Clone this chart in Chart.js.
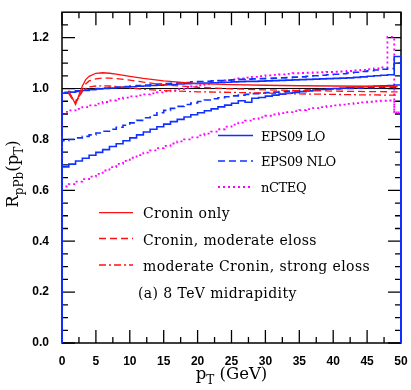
<!DOCTYPE html>
<html>
<head>
<meta charset="utf-8">
<script src="https://cdn.jsdelivr.net/npm/chart.js@4.4.1/dist/chart.umd.min.js"></script>
<style>
html,body{margin:0;padding:0;background:#fff;}
canvas{display:block;}
</style>
</head>
<body>
<canvas id="c" width="411" height="390" style="width:411px;height:390px"></canvas>
<script>
// ---------- data ----------
const binEdges = [0,1,2,3,4,5,6,7,8,9,10,11,12,13,14,15,16,17,18,19,20,21,22,23,24,25,26,27,28,29,30,31,32,33,34,35,36,37,38,39,40,41,42,43,44,45,46,47,48,49,50];

const eps09LoLower = [0.692,0.703,0.715,0.726,0.738,0.749,0.760,0.772,0.783,0.795,
  0.806,0.818,0.829,0.840,0.850,0.860,0.870,0.879,0.888,0.897,
  0.905,0.913,0.920,0.928,0.935,0.942,0.952,0.946,0.962,0.965,
  0.970,0.974,0.978,0.982,0.985,0.988,0.991,0.994,0.996,0.998,
  1.000,1.002,1.004,1.006,1.007,1.008,1.010,1.011,1.012,1.014];
const eps09LoUpper = [0.982,0.986,0.989,0.992,0.995,0.998,1.000,1.002,1.004,1.006,
  1.007,1.009,1.010,1.012,1.013,1.015,1.016,1.018,1.019,1.020,
  1.021,1.022,1.023,1.024,1.025,1.026,1.027,1.028,1.028,1.029,
  1.030,1.031,1.032,1.033,1.034,1.035,1.036,1.037,1.038,1.039,
  1.040,1.041,1.042,1.044,1.046,1.048,1.050,1.052,1.054,1.126];
const eps09NloLower = [0.795,0.800,0.806,0.812,0.818,0.825,0.832,0.840,0.848,0.856,
  0.865,0.875,0.885,0.895,0.905,0.914,0.922,0.930,0.937,0.943,
  0.949,0.955,0.960,0.964,0.968,0.971,0.974,0.977,0.980,0.982,
  0.984,0.986,0.988,0.990,0.991,0.993,0.994,0.995,0.996,0.997,
  0.998,0.999,1.000,1.001,1.002,1.003,1.003,1.004,1.004,1.005];
const eps09NloUpper = [0.985,0.988,0.991,0.994,0.997,1.000,1.002,1.004,1.006,1.008,
  1.010,1.012,1.014,1.016,1.018,1.020,1.021,1.023,1.024,1.026,
  1.027,1.028,1.030,1.031,1.033,1.034,1.036,1.037,1.038,1.039,
  1.040,1.041,1.042,1.043,1.045,1.046,1.048,1.050,1.052,1.054,
  1.056,1.058,1.061,1.064,1.067,1.070,1.073,1.076,1.079,1.100];
const nCteqUpper = [0.908,0.914,0.920,0.927,0.934,0.941,0.947,0.953,0.959,0.964,
  0.969,0.973,0.977,0.981,0.985,0.989,0.993,0.998,1.003,1.008,
  1.013,1.018,1.023,1.028,1.032,1.036,1.040,1.043,1.046,1.049,
  1.052,1.054,1.056,1.058,1.060,1.061,1.062,1.063,1.064,1.065,
  1.066,1.067,1.069,1.071,1.073,1.076,1.079,1.083,1.203,0.906];
const nCteqLower = [0.615,0.624,0.634,0.644,0.654,0.665,0.678,0.691,0.704,0.716,
  0.728,0.738,0.748,0.757,0.766,0.775,0.784,0.792,0.800,0.808,
  0.816,0.823,0.831,0.840,0.850,0.858,0.866,0.874,0.881,0.887,
  0.893,0.898,0.903,0.907,0.911,0.915,0.919,0.923,0.927,0.931,
  0.934,0.937,0.940,0.943,0.946,0.948,0.950,0.952,0.953,0.906];

const cronPt = [1,1.5,2,2.5,3,3.5,4,5,6,7,8,10,12,15,20,25,30,35,40,45,49.5];
const croninOnly = [0.990,0.965,0.937,0.975,1.010,1.035,1.048,1.060,1.062,1.060,1.057,1.048,1.040,1.030,1.019,1.015,1.013,1.011,1.010,1.009,1.008];
const croninModEloss = [0.985,0.960,0.945,0.965,0.995,1.018,1.030,1.038,1.041,1.041,1.039,1.033,1.025,1.015,1.005,0.999,0.995,0.992,0.990,0.988,0.987];
const modCroninStrongEloss = [0.980,0.960,0.952,0.968,0.988,1.000,1.006,1.010,1.011,1.010,1.008,1.002,0.997,0.992,0.987,0.985,0.982,0.979,0.977,0.975,0.974];

const refLineX = [0,50];
const refLineY = [1,1];

const xMajorTicks = [0,5,10,15,20,25,30,35,40,45,50];
const xMinorTicks = [2.5,7.5,12.5,17.5,22.5,27.5,32.5,37.5,42.5,47.5];
const yMajorTicks = [0,0.2,0.4,0.6,0.8,1.0,1.2];
const yMinorTicks = [0.05,0.1,0.15,0.25,0.3,0.35,0.45,0.5,0.55,0.65,0.7,0.75,0.85,0.9,0.95,1.05,1.1,1.15,1.25];

const xTitle = [{t:'p'},{t:'T',sub:true},{t:' (GeV)'}];
const yTitle = [{t:'R'},{t:'pPb',sub:true},{t:'(p'},{t:'T',sub:true},{t:')'}];
const annotation = '(a) 8 TeV midrapidity';

// ---------- styles ----------
const BLUE = '#1030ff', RED = '#ff1010', MAG = '#ff00ff';

function hist(vals){
  const pts = [{x: binEdges[0], y: 0}];
  for (let i = 0; i < vals.length; i++) pts.push({x: binEdges[i], y: vals[i]});
  pts.push({x: binEdges[binEdges.length-1], y: vals[vals.length-1]});
  pts.push({x: binEdges[binEdges.length-1], y: 0});
  return pts;
}
function curve(xs, ys){ return xs.map((x,i)=>({x, y: ys[i]})); }

function hds(label, vals, color, dash, width){
  return {label, data: hist(vals), borderColor: color, borderWidth: width, borderDash: dash,
    stepped: 'before', pointRadius: 0, fill: false, tension: 0, clip: 4};
}
function cds(label, xs, ys, color, dash, width){
  return {label, data: curve(xs, ys), borderColor: color, borderWidth: width, borderDash: dash,
    pointRadius: 0, fill: false, tension: 0, clip: 4};
}

const datasets = [
  cds('Cronin only', cronPt, croninOnly, RED, [], 1.3),
  cds('Cronin, moderate eloss', cronPt, croninModEloss, RED, [7,4], 1.3),
  cds('moderate Cronin, strong eloss', cronPt, modCroninStrongEloss, RED, [7,3,2,3], 1.3),
  hds('EPS09 LO', eps09LoUpper, BLUE, [], 1.6),
  hds('EPS09 LO lower', eps09LoLower, BLUE, [], 1.6),
  hds('EPS09 NLO', eps09NloUpper, BLUE, [7,4], 1.6),
  hds('EPS09 NLO lower', eps09NloLower, BLUE, [7,4], 1.6),
  hds('nCTEQ', nCteqUpper, MAG, [2,3], 1.8),
  hds('nCTEQ lower', nCteqLower, MAG, [2,3], 1.8),
  cds('ref', refLineX, refLineY, '#000', [], 1)
];

// ---------- plugins ----------
function drawRich(ctx, parts, x, y, size, align){
  const subSize = Math.round(size*0.7);
  const widths = parts.map(p => { ctx.font = (p.sub?subSize:size) + 'px "DejaVu Serif"'; return ctx.measureText(p.t).width; });
  const total = widths.reduce((a,b)=>a+b,0);
  let cx = align === 'center' ? x - total/2 : x;
  ctx.textAlign = 'left'; ctx.textBaseline = 'alphabetic';
  parts.forEach((p,i) => {
    ctx.font = (p.sub?subSize:size) + 'px "DejaVu Serif"';
    ctx.fillText(p.t, cx, y + (p.sub ? size*0.28 : 0));
    cx += widths[i];
  });
}

const frameTicks = {
  id: 'frameTicks',
  beforeDatasetsDraw(chart){
    const {ctx, chartArea: a, scales: {x, y}} = chart;
    ctx.save();
    ctx.strokeStyle = '#000';
    ctx.lineWidth = 1.5;
    ctx.strokeRect(a.left, a.top, a.right - a.left, a.bottom - a.top);
    ctx.lineWidth = 1.3;
    ctx.beginPath();
    const xt = (v, len) => { const p = x.getPixelForValue(v);
      ctx.moveTo(p, a.bottom); ctx.lineTo(p, a.bottom - len);
      ctx.moveTo(p, a.top); ctx.lineTo(p, a.top + len); };
    const yt = (v, len) => { const p = y.getPixelForValue(v);
      ctx.moveTo(a.left, p); ctx.lineTo(a.left + len, p);
      ctx.moveTo(a.right, p); ctx.lineTo(a.right - len, p); };
    xMajorTicks.forEach(v => xt(v, 13));
    xMinorTicks.forEach(v => xt(v, 6));
    yMajorTicks.forEach(v => yt(v, 13));
    yMinorTicks.forEach(v => yt(v, 6));
    ctx.stroke();
    ctx.restore();
  },
  afterDraw(chart){
    const {ctx, chartArea: a} = chart;
    ctx.save();
    ctx.fillStyle = '#000';
    // axis titles
    drawRich(ctx, xTitle, (a.left + a.right)/2, 379, 16.5, 'center');
    ctx.save();
    ctx.translate(18, 174);
    ctx.rotate(-Math.PI/2);
    drawRich(ctx, yTitle, 0, 0, 16.5, 'center');
    ctx.restore();

    // legend
    const legend = [
      {ds: 3, x1: 218, x2: 253, ly: 135.5, tx: 261, ty: 140.5, size: 13, sp: -0.4},
      {ds: 5, x1: 218, x2: 253, ly: 161, tx: 261, ty: 166, size: 13, sp: -0.4},
      {ds: 7, x1: 218, x2: 253, ly: 187, tx: 261, ty: 192, size: 13, sp: -0.4},
      {ds: 0, x1: 99, x2: 133, ly: 212.7, tx: 143, ty: 218, size: 14, sp: 0.4},
      {ds: 1, x1: 99, x2: 133, ly: 238.5, tx: 143, ty: 244.5, size: 14, sp: 0.4},
      {ds: 2, x1: 99, x2: 133, ly: 265, tx: 143, ty: 271, size: 14, sp: 0.4}
    ];
    legend.forEach(it => {
      const d = chart.data.datasets[it.ds];
      ctx.save();
      ctx.strokeStyle = d.borderColor; ctx.lineWidth = d.borderWidth;
      ctx.setLineDash(d.borderDash || []);
      ctx.beginPath(); ctx.moveTo(it.x1, it.ly); ctx.lineTo(it.x2, it.ly); ctx.stroke();
      ctx.restore();
      ctx.font = it.size + 'px "DejaVu Serif"';
      ctx.letterSpacing = it.sp + 'px';
      ctx.textAlign = 'left'; ctx.textBaseline = 'alphabetic';
      ctx.fillText(d.label, it.tx, it.ty);
    });
    ctx.font = '14px "DejaVu Serif"';
    ctx.letterSpacing = '0.4px';
    ctx.fillText(annotation, 138, 298);
    ctx.restore();
  }
};

new Chart(document.getElementById('c'), {
  type: 'line',
  data: { datasets },
  options: {
    responsive: false,
    animation: false,
    devicePixelRatio: 1,
    layout: { padding: { left: 0, right: 10, top: 5, bottom: 0 } },
    plugins: { legend: { display: false }, tooltip: { enabled: false } },
    scales: {
      x: {
        type: 'linear', min: 0, max: 50,
        grid: { display: false }, border: { display: false },
        afterBuildTicks: s => { s.ticks = xMajorTicks.map(v => ({value: v})); },
        ticks: { padding: 3, color: '#000', maxRotation: 0, autoSkip: false,
          font: { family: '"Liberation Sans"', size: 12, weight: 'bold' },
          callback: v => String(v) },
        afterFit: s => { s.height = 47; }
      },
      y: {
        type: 'linear', min: 0, max: 1.3,
        grid: { display: false }, border: { display: false },
        afterBuildTicks: s => { s.ticks = yMajorTicks.map(v => ({value: v})); },
        ticks: { padding: 5, color: '#000', autoSkip: false,
          font: { family: '"Liberation Sans"', size: 12, weight: 'bold' },
          callback: v => Number(v).toFixed(1) },
        afterFit: s => { s.width = 62; }
      }
    }
  },
  plugins: [frameTicks]
});
</script>
</body>
</html>
